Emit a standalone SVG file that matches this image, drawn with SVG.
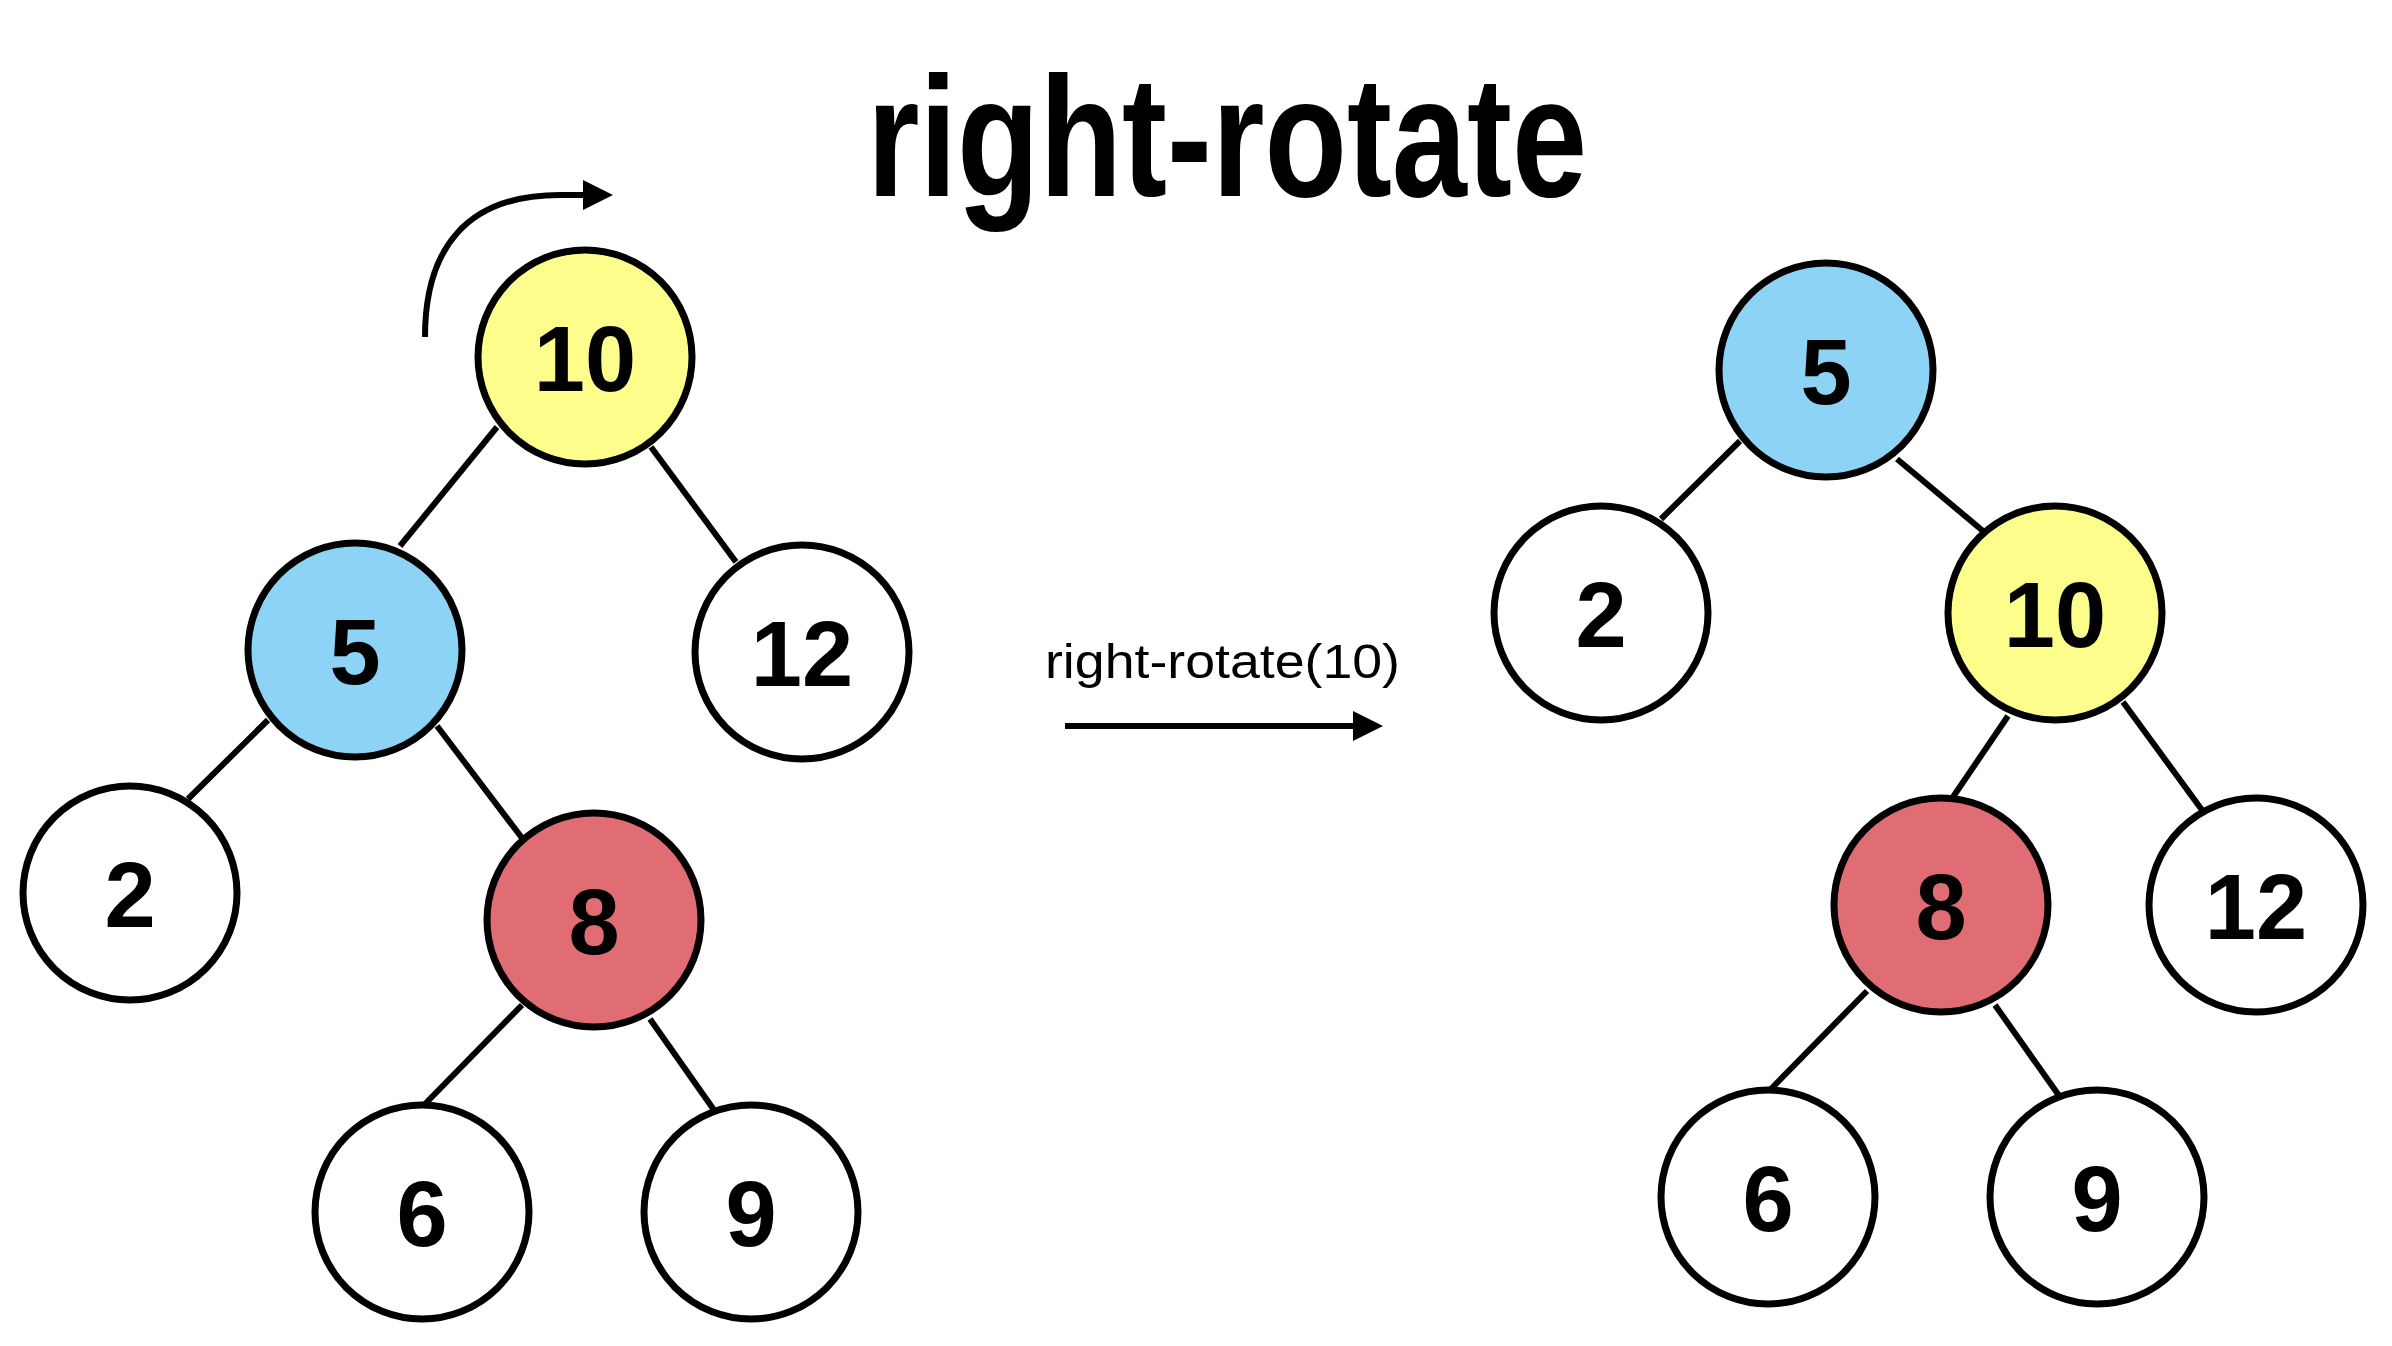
<svg xmlns="http://www.w3.org/2000/svg" width="2392" height="1346" viewBox="0 0 2392 1346">
<defs>
<style>
.n{stroke:#000;stroke-width:7}
.w{fill:#fff}.y{fill:#FDFD8C}.b{fill:#8CD3F5}.r{fill:#E06D73}
.t{font-family:"Liberation Sans",Arial,sans-serif;font-size:92px;font-weight:bold;text-anchor:middle;fill:#000}
.e line{stroke:#000;stroke-width:6;stroke-linecap:butt}
</style>
<marker id="ah" viewBox="0 0 10 10" refX="0" refY="5" markerWidth="5" markerHeight="5" markerUnits="strokeWidth" orient="auto">
<path d="M0,0 L10,5 L0,10 z" fill="#000"/>
</marker>
</defs>
<rect width="2392" height="1346" fill="#fff"/>
<text x="867" y="196" font-family="'Liberation Sans Narrow','Liberation Sans',Arial,sans-serif" font-weight="bold" font-size="170" textLength="720" lengthAdjust="spacingAndGlyphs" fill="#000">right-rotate</text>
<g id="connectors" class="e">
<line x1="497" y1="427" x2="400" y2="546"/>
<line x1="651" y1="447" x2="736" y2="562"/>
<line x1="268" y1="720" x2="188" y2="799"/>
<line x1="437" y1="726" x2="522" y2="838"/>
<line x1="522" y1="1005" x2="425" y2="1104"/>
<line x1="650" y1="1019" x2="714" y2="1110"/>
<line x1="1740" y1="441" x2="1661" y2="519"/>
<line x1="1897" y1="459" x2="1983" y2="531"/>
<line x1="2008" y1="716" x2="1953" y2="797"/>
<line x1="2123" y1="702" x2="2202" y2="810"/>
<line x1="1867" y1="991" x2="1770" y2="1090"/>
<line x1="1995" y1="1005" x2="2060" y2="1097"/>
<path d="M425,337 C425,250 465,195 560,195 L583,195" fill="none" stroke="#000" stroke-width="6" marker-end="url(#ah)"/>
<line x1="1065" y1="726" x2="1353" y2="726" stroke-width="6" marker-end="url(#ah)"/>
</g>
<text x="1045" y="678" font-family="'Liberation Sans',Arial,sans-serif" font-size="48" textLength="355" lengthAdjust="spacingAndGlyphs" fill="#000">right-rotate(10)</text>
<g id="L10"><circle class="n y" cx="585" cy="357" r="107"/><text class="t" x="585" y="391">10</text></g>
<g id="L5"><circle class="n b" cx="355" cy="650" r="107"/><text class="t" x="355" y="684">5</text></g>
<g id="L12"><circle class="n w" cx="802" cy="652" r="107"/><text class="t" x="802" y="686">12</text></g>
<g id="L2"><circle class="n w" cx="130" cy="893" r="107"/><text class="t" x="130" y="927">2</text></g>
<g id="L8"><circle class="n r" cx="594" cy="920" r="107"/><text class="t" x="594" y="954">8</text></g>
<g id="L6"><circle class="n w" cx="422" cy="1212" r="107"/><text class="t" x="422" y="1246">6</text></g>
<g id="L9"><circle class="n w" cx="751" cy="1212" r="107"/><text class="t" x="751" y="1246">9</text></g>
<g id="R5"><circle class="n b" cx="1826" cy="370" r="107"/><text class="t" x="1826" y="404">5</text></g>
<g id="R2"><circle class="n w" cx="1601" cy="613" r="107"/><text class="t" x="1601" y="647">2</text></g>
<g id="R10"><circle class="n y" cx="2055" cy="613" r="107"/><text class="t" x="2055" y="647">10</text></g>
<g id="R8"><circle class="n r" cx="1941" cy="905" r="107"/><text class="t" x="1941" y="939">8</text></g>
<g id="R12"><circle class="n w" cx="2256" cy="905" r="107"/><text class="t" x="2256" y="939">12</text></g>
<g id="R6"><circle class="n w" cx="1768" cy="1197" r="107"/><text class="t" x="1768" y="1231">6</text></g>
<g id="R9"><circle class="n w" cx="2097" cy="1197" r="107"/><text class="t" x="2097" y="1231">9</text></g>
</svg>
